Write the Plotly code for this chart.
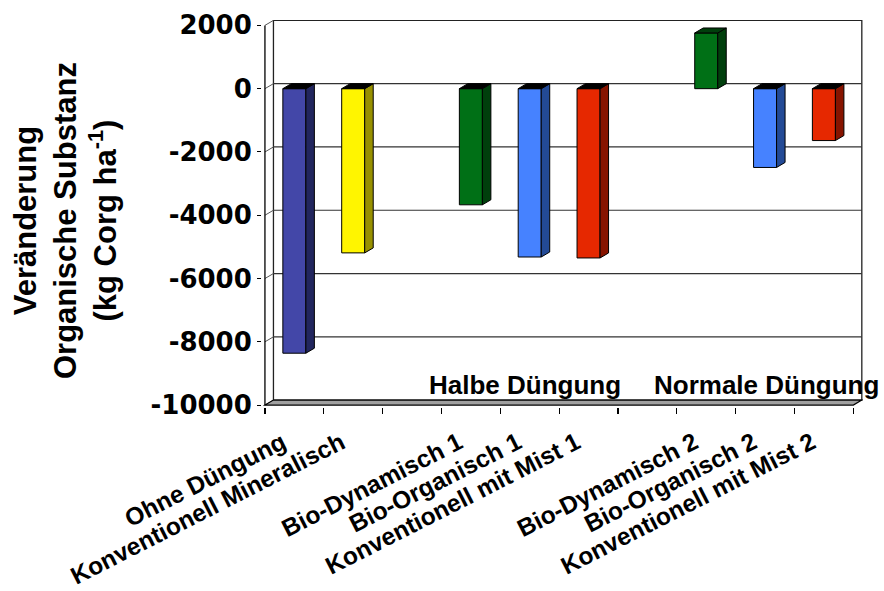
import plotly.graph_objects as go

# ---------------- data ----------------
categories = ["Ohne Düngung", "Konventionell Mineralisch", "",
              "Bio-Dynamisch 1", "Bio-Organisch 1", "Konventionell mit Mist 1", "",
              "Bio-Dynamisch 2", "Bio-Organisch 2", "Konventionell mit Mist 2"]
values = [-8360, -5190, None, -3670, -5320, -5350, None, 1760, -2490, -1640]
front_colors = ["#4347A8", "#FFF500", None, "#007016", "#4682FF", "#E62800",
                None, "#007016", "#4682FF", "#E62800"]
side_colors = ["#22265E", "#989100", None, "#003F0C", "#234A96", "#871400",
               None, "#003F0C", "#234A96", "#871400"]
y_ticks = [-10000, -8000, -6000, -4000, -2000, 0, 2000]
group_labels = ["Halbe Düngung", "Normale Düngung"]
group_x = [4.42, 8.52]
y_title = "Veränderung<br>Organische Substanz<br>(kg Corg ha<sup>-1</sup>)"

# ---------------- geometry ----------------
FIG_W, FIG_H = 884, 591
KX = 58.8            # px per category
KY = 380 / 12000     # px per kg
X_LEFT_PX = 265      # x=0
Y_BOTTOM_PX = 405    # y=-10000
DX = 8.5 / KX        # 3D depth in x units
DY = 5 / KY          # 3D depth in y units
BAR_W = 23 / KX
HW = BAR_W / 2

x0, x1 = -0.05, 10 + DX + 0.02
y0, y1 = -10060, 2000 + DY + 12
m_l = X_LEFT_PX + x0 * KX
m_r = FIG_W - (X_LEFT_PX + x1 * KX)
m_t = Y_BOTTOM_PX - (y1 + 10000) * KY
m_b = FIG_H - (Y_BOTTOM_PX + (-10000 - y0) * KY)

fig = go.Figure()

# side & top faces (3D effect)
for i, v in enumerate(values):
    if v is None:
        continue
    c = i + 0.5
    fig.add_trace(go.Scatter(
        x=[c + HW, c + HW + DX, c + HW + DX, c + HW, c + HW],
        y=[0, DY, v + DY, v, 0],
        fill="toself", fillcolor=side_colors[i], mode="lines",
        line=dict(color="black", width=1), hoverinfo="skip", showlegend=False))
    ty = 0 if v < 0 else v
    tcol = "black" if v < 0 else side_colors[i]
    fig.add_trace(go.Scatter(
        x=[c - HW, c + HW, c + HW + DX, c - HW + DX, c - HW],
        y=[ty, ty, ty + DY, ty + DY, ty],
        fill="toself", fillcolor=tcol, mode="lines",
        line=dict(color="black", width=1), hoverinfo="skip", showlegend=False))

# front faces
idx = [i for i, v in enumerate(values) if v is not None]
fig.add_trace(go.Bar(
    x=[i + 0.5 for i in idx], y=[values[i] for i in idx], base=0,
    width=BAR_W, marker=dict(color=[front_colors[i] for i in idx],
                             line=dict(color="black", width=1)),
    showlegend=False, hoverinfo="skip"))

# ---------------- frame shapes ----------------
shapes = []
shapes.append(dict(type="rect", xref="x", yref="y", x0=DX, x1=10 + DX,
                   y0=-10000 + DY, y1=2000 + DY, line=dict(color="#222", width=1.3),
                   fillcolor="white", layer="below"))
for g in y_ticks:
    if -10000 < g < 2000:
        shapes.append(dict(type="line", xref="x", yref="y", x0=DX, x1=10 + DX,
                           y0=g + DY, y1=g + DY, line=dict(color="#333", width=1.2),
                           layer="below"))
    shapes.append(dict(type="line", xref="x", yref="y", x0=0, x1=DX,
                       y0=g, y1=g + DY, line=dict(color="#555", width=1), layer="below"))
shapes.append(dict(type="path", xref="x", yref="y",
                   path=f"M 0 -10000 L 10 -10000 L {10 + DX} {-10000 + DY} L {DX} {-10000 + DY} Z",
                   fillcolor="#A0A0A0", line=dict(color="black", width=1.2), layer="below"))
shapes.append(dict(type="line", xref="x", yref="y", x0=0, x1=0, y0=-10000, y1=2000,
                   line=dict(color="black", width=1.3), layer="above"))

annotations = []
lab_y = -10000 + 20 / KY
for t, gx in zip(group_labels, group_x):
    annotations.append(dict(text=t, x=gx, y=lab_y, xref="x", yref="y",
                            showarrow=False, xanchor="center", yanchor="middle",
                            font=dict(family="Liberation Sans, Arial", size=26,
                                      color="black", weight=700)))
plot_w = FIG_W - m_l - m_r
plot_h = FIG_H - m_t - m_b
annotations.append(dict(text=y_title, textangle=-90, showarrow=False,
                        xref="paper", yref="paper",
                        x=(66 - m_l) / plot_w, y=(FIG_H - m_b - 220) / plot_h,
                        xanchor="center", yanchor="middle",
                        font=dict(family="Liberation Sans, Arial", size=31,
                                  color="black", weight=700)))

fig.update_layout(
    width=FIG_W, height=FIG_H, autosize=False,
    margin=dict(l=m_l, r=m_r, t=m_t, b=m_b, pad=0),
    paper_bgcolor="white", plot_bgcolor="white",
    shapes=shapes, annotations=annotations, bargap=0,
    xaxis=dict(range=[x0, x1], showgrid=False, zeroline=False, showline=False,
               tickmode="array", tickvals=[i + 0.5 for i in idx],
               ticktext=[categories[i] for i in idx], tickangle=-27, ticks="",
               ticklabelstandoff=16, ticklabelshift=-12,
               tickfont=dict(family="Liberation Sans, Arial", size=24.5,
                             color="black", weight=700),
               minor=dict(tickmode="array", tickvals=list(range(11)), ticks="outside",
                          ticklen=6, tickwidth=1.2, tickcolor="black", showgrid=False),
               automargin=False),
    yaxis=dict(range=[y0, y1], showgrid=False, zeroline=False, showline=False,
               tickmode="array", tickvals=y_ticks,
               ticktext=[str(v) for v in y_ticks], ticks="outside", ticklen=4,
               tickcolor="black",
               tickfont=dict(family="DejaVu Sans", size=26, color="black", weight=700),
               automargin=False),
)

fig.write_html("out.html", config={"displayModeBar": False, "staticPlot": True},
               post_script="document.body.style.margin='0';document.body.style.padding='0';")
